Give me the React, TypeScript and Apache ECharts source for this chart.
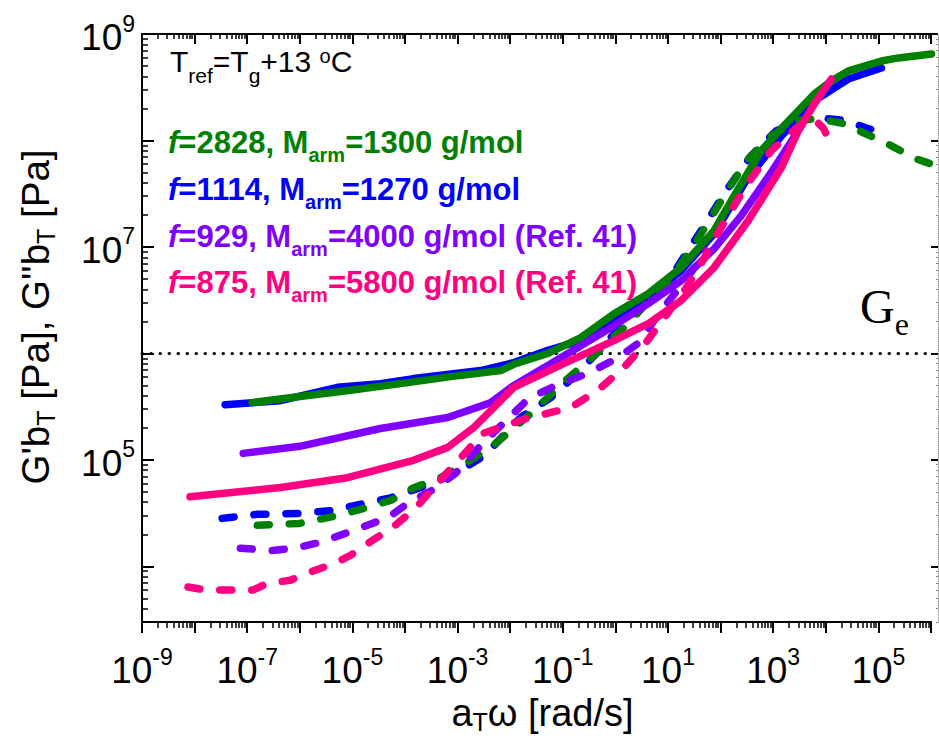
import React, { useEffect, useRef } from "react";
import * as echarts from "echarts";

const FONT = "'Liberation Sans', Arial, Helvetica, sans-serif";
const SERIF = "'Liberation Serif', 'Times New Roman', serif";

const X_MIN = 1e-9;
const X_MAX = 1e6;
const Y_MIN = 3e3;
const Y_MAX = 1e9;
const G_E = 1e6;

const xLabelValues = [1e-9, 1e-7, 1e-5, 1e-3, 1e-1, 1e1, 1e3, 1e5];
const yLabelValues = [1e5, 1e7, 1e9];

// G' (solid) and G'' (dashed) master curves, [a_T*omega, modulus]
const greenStorage = [
  [1.24e-7, 3.45e5], [1.0e-6, 3.94e5], [9.2e-6, 4.5e5], [8.2e-5, 5.2e5], [7.4e-4, 6.05e5],
  [6.6e-3, 6.9e5], [1.17e-2, 7.9e5], [5.2e-2, 1.0e6], [0.22, 1.41e6], [0.94, 2.36e6],
  [4.2, 3.64e6], [17.7, 6.4e6], [75, 1.42e7], [158, 2.7e7], [306, 4.66e7], [590, 8.0e7],
  [1420, 1.29e8], [6040, 2.73e8], [1.27e4, 3.62e8], [2.68e4, 4.5e8], [1.14e5, 5.58e8],
  [2.4e5, 5.96e8], [1.02e6, 6.5e8],
];
const greenLoss = [
  [1.55e-7, 2.43e4], [1.0e-6, 2.53e4], [4.3e-6, 2.94e4], [1.42e-5, 3.43e4], [5.3e-5, 4.16e4],
  [1.39e-4, 5.4e4], [4.7e-4, 6.8e4], [1.42e-3, 9.2e4], [5.3e-3, 1.43e5], [2.45e-2, 2.72e5],
  [0.114, 5.6e5], [0.34, 8.9e5], [1.58, 1.82e6], [4.35, 3.13e6], [11.4, 5.0e6], [37, 1.19e7],
  [102, 2.7e7], [306, 6.4e7], [916, 1.1e8], [2740, 1.53e8], [6600, 1.6e8], [1.97e4, 1.46e8],
  [5.9e4, 1.15e8], [1.77e5, 8.9e7], [5.3e5, 6.7e7], [1.02e6, 6.0e7],
];
const blueStorage = [
  [3.8e-8, 3.3e5], [4.3e-7, 3.6e5], [5.2e-6, 4.8e5], [3.4e-5, 5.2e5], [1.45e-4, 5.8e5],
  [2.74e-3, 6.9e5], [1.17e-2, 8.2e5], [5.2e-2, 1.07e6], [0.22, 1.32e6], [0.94, 2.17e6],
  [4.2, 3.33e6], [17.7, 6.0e6], [75, 1.33e7], [306, 4.2e7], [1420, 1.1e8], [6040, 2.35e8],
  [2.68e4, 3.78e8], [1.14e5, 4.8e8],
];
const blueLoss = [
  [3.34e-8, 2.82e4], [1.55e-7, 3.08e4], [1.0e-6, 3.14e4], [4.2e-6, 3.35e4], [9.2e-6, 3.65e4],
  [5.3e-5, 4.4e4], [3.34e-4, 6.0e4], [1.14e-3, 8.0e4], [3.27e-3, 1.1e5], [1.58e-2, 2.5e5],
  [5.9e-2, 3.85e5], [0.193, 6.5e5], [0.53, 1.11e6], [1.58, 2.03e6], [4.74, 3.48e6],
  [14.2, 6.2e6], [42.5, 1.42e7], [127, 3.37e7], [381, 7.2e7], [1140, 1.23e8], [3410, 1.6e8],
  [8200, 1.63e8], [2.45e4, 1.53e8], [5.9e4, 1.31e8], [1.42e5, 1.15e8],
];
const purpleStorage = [
  [8.4e-8, 1.15e5], [1.0e-6, 1.34e5], [3.4e-5, 1.97e5], [6.5e-4, 2.5e5], [4.3e-3, 3.45e5],
  [1.17e-2, 5.0e5], [5.2e-2, 7.7e5], [0.22, 1.18e6], [0.94, 1.82e6], [4.2, 2.93e6],
  [17.7, 4.8e6], [75, 9.6e6], [245, 1.96e7], [916, 5.0e7], [3410, 1.37e8],
];
const purpleLoss = [
  [7.4e-8, 1.48e4], [3.0e-7, 1.41e4], [8.2e-7, 1.48e4], [2.45e-6, 1.68e4], [7.4e-6, 2.04e4],
  [1.93e-5, 2.43e4], [4.85e-5, 2.88e4], [1.12e-4, 3.9e4], [3.34e-4, 5.2e4], [9.2e-4, 7.5e4],
  [3.0e-3, 1.43e5], [2.25e-2, 3.77e5], [7.4e-2, 5.0e5], [0.3, 6.5e5], [1.12, 9.1e5],
  [2.68, 1.24e6], [7.4, 2.52e6], [23, 5.1e6], [53, 9.2e6],
];
const pinkStorage = [
  [8.2e-9, 4.5e4], [4.3e-7, 5.5e4], [8.0e-6, 6.8e4], [1.45e-4, 9.9e4], [6.5e-4, 1.31e5],
  [2.0e-3, 2.0e5], [4.85e-3, 3.1e5], [1.17e-2, 4.8e5], [0.104, 8.0e5], [0.94, 1.32e6],
  [4.2, 1.9e6], [17.7, 3.13e6], [75, 6.4e6], [334, 1.76e7], [1420, 5.5e7], [2990, 1.23e8],
  [6040, 2.2e8], [1.27e4, 3.78e8],
];
const pinkLoss = [
  [7.5e-9, 6.4e3], [1.58e-8, 6.0e3], [4.7e-8, 6.0e3], [1.3e-7, 6.0e3], [2.4e-7, 6.9e3],
  [6.6e-7, 7.4e3], [1.97e-6, 9.2e3], [4.7e-6, 1.07e4], [9.2e-6, 1.27e4], [2.4e-5, 1.75e4],
  [5.8e-5, 2.32e4], [1.58e-4, 3.5e4], [3.8e-4, 5.75e4], [1.04e-3, 9.9e4], [3.0e-3, 1.77e5],
  [1.97e-2, 2.44e5], [0.142, 3.1e5], [0.46, 4.5e5], [1.39, 7.2e5], [3.8, 1.26e6], [22, 4.1e6],
  [42.5, 6.95e6], [94, 1.42e7], [306, 3.75e7], [916, 8.0e7], [2740, 1.31e8], [5780, 1.6e8],
  [8950, 1.31e8], [1.17e4, 9.9e7],
];

const GREEN = "#008000";
const BLUE = "#0000ff";
const PURPLE = "#8000ff";
const PINK = "#ff0080";

function majorTicks(lo: number, hi: number): number[] {
  const out: number[] = [];
  for (let e = lo; e <= hi; e++) out.push(Number(`1e${e}`));
  return out;
}
function minorTicks(lo: number, hi: number, min: number, max: number): number[] {
  const out: number[] = [];
  for (let e = lo; e <= hi; e++) {
    for (let k = 2; k <= 9; k++) {
      const v = Number(`${k}e${e}`);
      if (v >= min && v <= max) out.push(v);
    }
  }
  return out;
}

const xMajor = majorTicks(-9, 6);
const xMinor = minorTicks(-9, 5, X_MIN, X_MAX);
const yMajor = majorTicks(4, 9);
const yMinor = minorTicks(3, 8, Y_MIN, Y_MAX);

const expLabel = (v: number) => {
  const e = Math.round(Math.log10(v));
  return `{b|10}{s|${e}}`;
};

const labelRich = {
  b: { fontFamily: FONT, fontSize: 37, lineHeight: 44, color: "#000", verticalAlign: "bottom" },
  s: { fontFamily: FONT, fontSize: 23, lineHeight: 20, color: "#000", verticalAlign: "top" },
};

function logAxis(kind: "x" | "y", extra: any) {
  return {
    type: "log",
    logBase: 10,
    min: kind === "x" ? X_MIN : Y_MIN,
    max: kind === "x" ? X_MAX : Y_MAX,
    splitLine: { show: false },
    minorTick: { show: false },
    minorSplitLine: { show: false },
    axisLine: { show: false, onZero: false },
    axisTick: { show: false },
    axisLabel: { show: false },
    ...extra,
  };
}

const blackLine = { show: true, onZero: false, lineStyle: { color: "#000", width: 2 } };
const tickStyle = (w: number, c = "#000") => ({ color: c, width: w });

function curve(name: string, data: number[][], color: string, dashed: boolean, z: number) {
  return {
    type: "line",
    name,
    data,
    xAxisIndex: 0,
    yAxisIndex: 0,
    showSymbol: false,
    symbol: "none",
    silent: true,
    z,
    lineStyle: {
      color,
      width: 7.5,
      type: dashed ? [12, 20] : "solid",
      cap: "round",
      join: "round",
    },
    itemStyle: { color },
  };
}

function legendLine(text: string, color: string, top: number) {
  return {
    type: "text",
    x: 168,
    y: top,
    silent: true,
    style: {
      text,
      fill: color,
      align: "left",
      verticalAlign: "top",
      rich: {
        fi: { fontFamily: FONT, fontSize: 31, lineHeight: 36, fontWeight: "bold", fontStyle: "italic", fill: color, verticalAlign: "top" },
        b: { fontFamily: FONT, fontSize: 31, lineHeight: 36, fontWeight: "bold", fill: color, verticalAlign: "top" },
        sub: { fontFamily: FONT, fontSize: 20, lineHeight: 38.3, fontWeight: "bold", fill: color, verticalAlign: "bottom" },
      },
    },
  };
}

export default function App() {
  const ref = useRef<HTMLDivElement>(null);

  useEffect(() => {
    if (!ref.current) return;
    const chart = echarts.init(ref.current, undefined, { renderer: "svg" });
    const option: any = {
      animation: false,
      backgroundColor: "#fff",
      grid: { left: 142, right: 8, top: 34, bottom: 114, containLabel: false, outerBoundsMode: "none" },
      xAxis: [
        logAxis("x", {
          position: "bottom",
          axisLine: blackLine,
          axisTick: { show: true, inside: false, length: 11, customValues: xMajor, lineStyle: tickStyle(2) },
          axisLabel: { show: true, customValues: xLabelValues, formatter: expLabel, margin: 23, color: "#000", rich: labelRich },
          name: "{a|a}{t|T}{a|ω [rad/s]}",
          nameLocation: "middle",
          nameGap: 68,
          nameTextStyle: {
            padding: [0, 0, 0, 12],
            rich: {
              a: { fontFamily: FONT, fontSize: 38, lineHeight: 39, color: "#000", verticalAlign: "top" },
              t: { fontFamily: FONT, fontSize: 25, lineHeight: 41, color: "#000", verticalAlign: "bottom" },
            },
          },
        }),
        logAxis("x", {
          position: "bottom",
          axisTick: { show: true, inside: false, length: 6, customValues: xMinor, lineStyle: tickStyle(1.5) },
        }),
        logAxis("x", {
          position: "top",
          axisLine: blackLine,
          axisTick: { show: true, inside: true, length: 10, customValues: xMajor, lineStyle: tickStyle(2) },
        }),
        logAxis("x", {
          position: "top",
          axisTick: { show: true, inside: true, length: 5, customValues: xMinor, lineStyle: tickStyle(1.5) },
        }),
      ],
      yAxis: [
        logAxis("y", {
          position: "left",
          axisLine: blackLine,
          axisTick: { show: true, inside: true, length: 12, customValues: yMajor, lineStyle: tickStyle(2) },
          axisLabel: { show: true, customValues: yLabelValues, formatter: expLabel, margin: 7, color: "#000", rich: labelRich },
        }),
        logAxis("y", {
          position: "left",
          axisTick: { show: true, inside: true, length: 6, customValues: yMinor, lineStyle: tickStyle(1.5) },
        }),
        logAxis("y", {
          position: "right",
          offset: 7,
          axisLine: { show: true, onZero: false, lineStyle: { color: "#9a9a9a", width: 1, type: "dotted" } },
          axisTick: { show: true, inside: true, length: 7, customValues: yMajor, lineStyle: tickStyle(2) },
        }),
        logAxis("y", {
          position: "right",
          offset: 7,
          axisTick: { show: true, inside: true, length: 2, customValues: yMinor, lineStyle: tickStyle(1, "#888") },
        }),
      ],
      series: [
        {
          ...curve("f=1114 G'", blueStorage, BLUE, false, 2),
          markLine: {
            silent: true,
            symbol: ["none", "none"],
            label: { show: false },
            lineStyle: { color: "#000", width: 3, type: [0.5, 8.5], cap: "round" },
            data: [{ yAxis: G_E }],
            z: 1,
          },
        },
        curve("f=1114 G''", blueLoss, BLUE, true, 2),
        curve("f=2828 G'", greenStorage, GREEN, false, 3),
        curve("f=2828 G''", greenLoss, GREEN, true, 3),
        curve("f=929 G'", purpleStorage, PURPLE, false, 4),
        curve("f=929 G''", purpleLoss, PURPLE, true, 4),
        curve("f=875 G'", pinkStorage, PINK, false, 5),
        curve("f=875 G''", pinkLoss, PINK, true, 5),
      ],
      graphic: [
        {
          type: "text",
          x: 37,
          y: 317,
          rotation: Math.PI / 2,
          silent: true,
          style: {
            text: "{g|G'b}{t|T}{g| [Pa], G''b}{t|T}{g| [Pa]}",
            align: "center",
            verticalAlign: "middle",
            fill: "#000",
            rich: {
              g: { fontFamily: FONT, fontSize: 38.5, lineHeight: 42, fill: "#000", verticalAlign: "top" },
              t: { fontFamily: FONT, fontSize: 25, lineHeight: 42, fill: "#000", verticalAlign: "bottom" },
            },
          },
        },
        {
          type: "text",
          x: 170,
          y: 46,
          silent: true,
          style: {
            text: "{n|T}{sub|ref}{n|=T}{sub|g}{n|+13 }{sup|o}{n|C}",
            align: "left",
            verticalAlign: "top",
            fill: "#000",
            rich: {
              n: { fontFamily: FONT, fontSize: 30, lineHeight: 36, fill: "#000", verticalAlign: "top" },
              sub: { fontFamily: FONT, fontSize: 21, lineHeight: 40, fill: "#000", verticalAlign: "bottom" },
              sup: { fontFamily: FONT, fontSize: 20, lineHeight: 25, fill: "#000", verticalAlign: "top" },
            },
          },
        },
        legendLine("{fi|f}{b|=2828, M}{sub|arm}{b|=1300 g/mol}", GREEN, 126.8),
        legendLine("{fi|f}{b|=1114, M}{sub|arm}{b|=1270 g/mol}", BLUE, 173.8),
        legendLine("{fi|f}{b|=929, M}{sub|arm}{b|=4000 g/mol (Ref. 41)}", PURPLE, 220.8),
        legendLine("{fi|f}{b|=875, M}{sub|arm}{b|=5800 g/mol (Ref. 41)}", PINK, 266.8),
        {
          type: "text",
          x: 860,
          y: 282.8,
          silent: true,
          style: {
            text: "{G|G}{e|e}",
            align: "left",
            verticalAlign: "top",
            fill: "#000",
            rich: {
              G: { fontFamily: SERIF, fontSize: 48, lineHeight: 54, fill: "#000", verticalAlign: "top" },
              e: { fontFamily: SERIF, fontSize: 32, lineHeight: 57.4, fill: "#000", verticalAlign: "bottom" },
            },
          },
        },
      ],
    };
    chart.setOption(option);
    return () => chart.dispose();
  }, []);

  return (
    <div style={{ position: "fixed", left: 0, top: 0, width: 939, height: 736, background: "#fff" }}>
      <div ref={ref} style={{ width: 939, height: 736 }} />
    </div>
  );
}
